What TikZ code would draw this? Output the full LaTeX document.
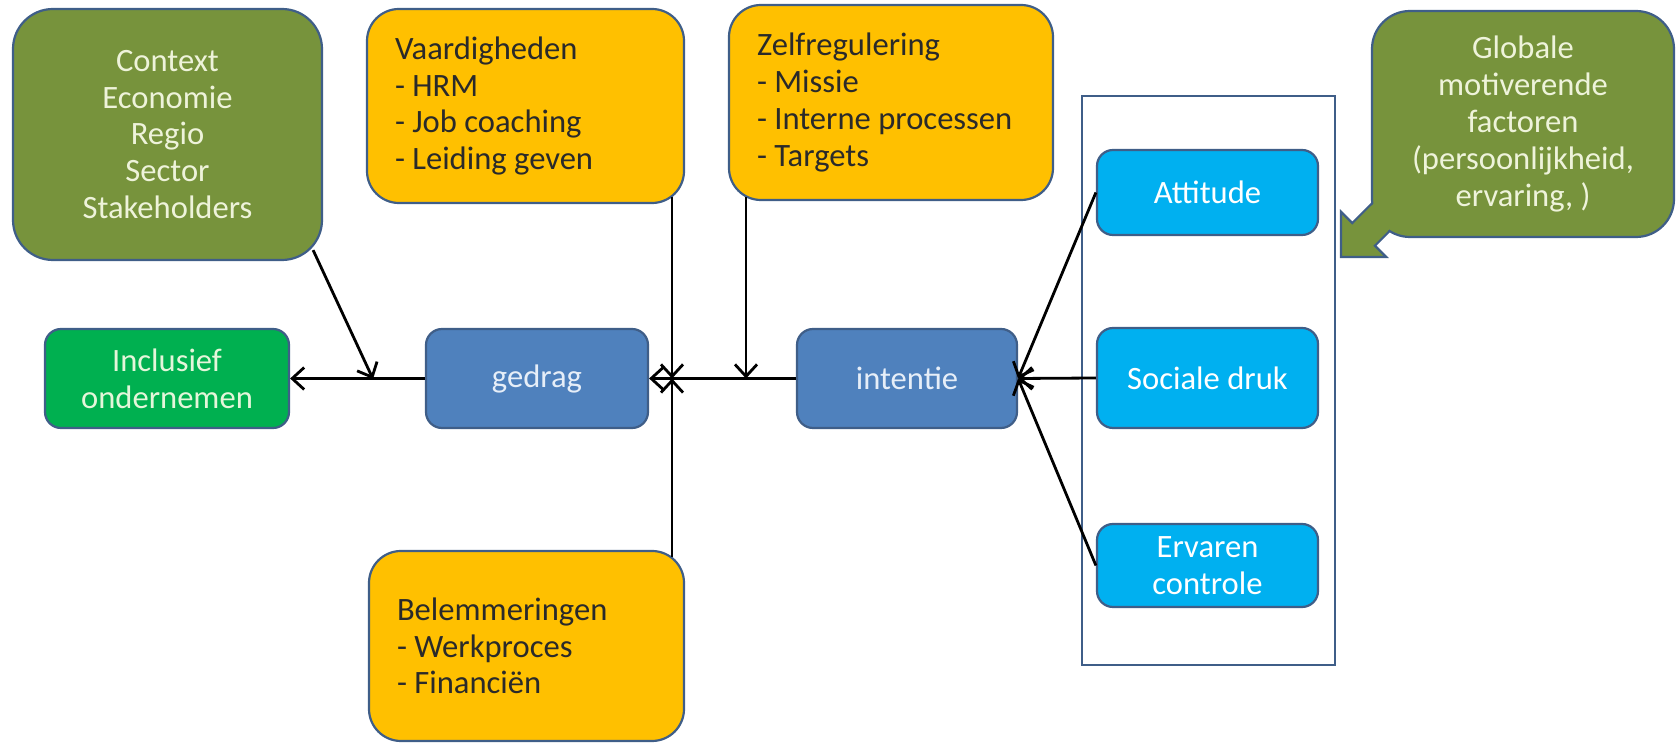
\documentclass[tikz,border=0pt]{standalone}
\usepackage{fontspec}
\setmainfont{Carlito}
\usetikzlibrary{arrows.meta,calc}

\definecolor{olijf}{HTML}{77933C}
\definecolor{oranje}{HTML}{FFC000}
\definecolor{groen}{HTML}{00B050}
\definecolor{blauw}{HTML}{4F81BD}
\definecolor{lichtblauw}{HTML}{00B0F0}
\definecolor{rand}{HTML}{3F5E88}
\definecolor{olijftekst}{HTML}{EEF3DA}
\definecolor{groentekst}{HTML}{E4F6DA}
\definecolor{blauwtekst}{HTML}{E6EEF8}
\definecolor{donkertekst}{HTML}{2A2A2A}

\begin{document}
\begin{tikzpicture}[x=0.5pt,y=-0.5pt]
    \tikzstyle{every node}+=[font=\fontsize{16.3}{18.4}\selectfont]
    \tikzstyle{blok}=[draw=rand, line width=1.1pt, rounded corners=8pt, align=center, inner sep=0pt]
    \tikzstyle{olijfblok}=[blok, fill=olijf, text=olijftekst]
    \tikzstyle{oranjeblok}=[blok, fill=oranje, text=donkertekst, align=flush left, inner xsep=14pt, rounded corners=16pt]
    \tikzstyle{groenblok}=[blok, fill=groen, text=groentekst]
    \tikzstyle{blauwblok}=[blok, fill=blauw, text=blauwtekst]
    \tikzstyle{lichtblauwblok}=[blok, fill=lichtblauw, text=white, minimum width=110.5pt]
    \tikzstyle{pijl}=[-{Straight Barb[length=6pt,width=11pt]}, line width=1.4pt, black]
    \useasboundingbox (0,0) rectangle (1677,747);
    % context en vaardigheden
    \node[olijfblok, minimum width=154.5pt, minimum height=125.5pt, rounded corners=20pt] (context) at (167.5,134.5) {Context\\Economie\\Regio\\Sector\\Stakeholders};
    \node[oranjeblok, minimum width=158.5pt, minimum height=97pt, text width=130.5pt] (vaard) at (525.5,106) {Vaardigheden\\- HRM\\- Job coaching\\- Leiding geven};
    \node[oranjeblok, minimum width=162pt, minimum height=97.5pt, text width=134pt] (zelf) at (891,102.5) {Zelfregulering\\- Missie\\- Interne processen\\- Targets};
    \node[oranjeblok, minimum width=157.5pt, minimum height=95pt, text width=129.5pt] (belem) at (526.5,646) {Belemmeringen\\- Werkproces\\- Financiën};
    % globale factoren met pijl
    \draw[fill=olijf, draw=rand, line width=1.1pt, line join=miter] (1382.7,192.7) -- (1352.3,223.1) -- (1341,211.8) -- (1341,257) -- (1386.3,257) -- (1374.9,245.7) -- (1405.3,215.3) -- cycle;
    \node[olijfblok, minimum width=151pt, minimum height=113pt, rounded corners=19pt] (globale) at (1523,124) {Globale\\motiverende\\factoren\\(persoonlijkheid,\\ervaring, )};
    \fill[olijf] (1354,223.4) -- (1383.7,193.7) -- (1404.3,214.3) -- (1374.6,244) -- cycle;
    % middenrij
    \node[groenblok, minimum width=122pt, minimum height=49.5pt] (inclusief) at (167,378.5) {Inclusief\\ondernemen};
    \node[blauwblok, minimum width=111pt, minimum height=49.5pt] (gedrag) at (537,378.5) {gedrag};
    \node[blauwblok, minimum width=110pt, minimum height=49.5pt] (intentie) at (907,378.5) {intentie};
    % kader
    \node[draw=rand, line width=1pt, minimum width=126.5pt, minimum height=284.5pt, inner sep=0pt] (kader) at (1208.5,380.5) {};
    \node[lichtblauwblok, minimum height=42.5pt] (attitude) at (1207.5,192.5) {Attitude};
    \node[lichtblauwblok, minimum height=50pt] (sociale) at (1207.5,378) {Sociale druk};
    \node[lichtblauwblok, minimum height=41.5pt] (ervaren) at (1207.5,565.5) {Ervaren\\controle};
    % pijlen
    \coordinate (jctx) at (373,379);
    \coordinate (jv) at (672,378.5);
    \coordinate (jz) at (746,378.5);
    \draw[pijl] (intentie.west) -- (gedrag.east);
    \draw[pijl] (gedrag.west) -- (inclusief.east);
    \draw[pijl] ($(context.south east)+(-10,-11)$) -- (jctx);
    \draw[pijl] ($(jv |- vaard.south)+(0,-7)$) -- (jv);
    \draw[pijl] ($(jv |- belem.north)+(0,7)$) -- (jv);
    \draw[pijl] ($(jz |- zelf.south)+(0,-4)$) -- (jz);
    \draw[pijl] (attitude.west) -- (intentie.east);
    \draw[pijl] (sociale.west) -- (intentie.east);
    \draw[pijl] (ervaren.west) -- (intentie.east);
\end{tikzpicture}
\end{document}
